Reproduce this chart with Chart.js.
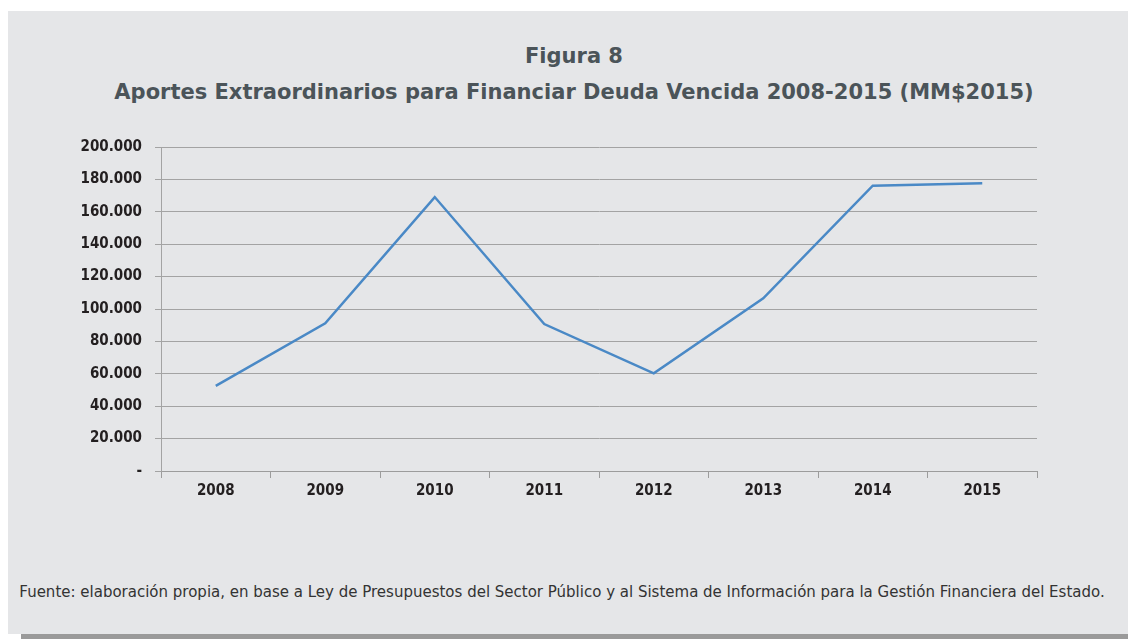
<!DOCTYPE html>
<html>
<head>
<meta charset="utf-8">
<script src="https://cdn.jsdelivr.net/npm/chart.js@4.4.0/dist/chart.umd.min.js"></script>
<style>
  html, body { margin: 0; padding: 0; width: 1128px; height: 639px; background: #ffffff; overflow: hidden; }
  #panel { position: absolute; left: 8px; top: 11px; width: 1120px; height: 623px; background: #e5e6e8; }
  #bar { position: absolute; left: 21px; top: 634px; width: 1107px; height: 5px; background: #9a9a9a; }
  .title { position: absolute; left: 10px; width: 1128px; text-align: center; font-family: "DejaVu Sans", sans-serif; font-weight: bold; font-size: 21px; color: #4b5459; white-space: nowrap; }
  #foot { position: absolute; left: -2px; width: 1128px; top: 583px; text-align: center; font-family: "DejaVu Sans", sans-serif; font-size: 15px; color: #333; white-space: nowrap; }
  #wrap { position: absolute; left: 0; top: 0; width: 1128px; height: 639px; }
</style>
</head>
<body>
<div id="panel"></div>
<div id="bar"></div>
<div class="title" style="top:44px">Figura 8</div>
<div class="title" style="top:80px">Aportes Extraordinarios para Financiar Deuda Vencida 2008-2015 (MM$2015)</div>
<div id="foot">Fuente: elaboración propia, en base a Ley de Presupuestos del Sector Público y al Sistema de Información para la Gestión Financiera del Estado.</div>
<div id="wrap"><canvas id="c" width="1128" height="639"></canvas></div>
<script>
const years = ["2008", "2009", "2010", "2011", "2012", "2013", "2014", "2015"];
const aportes = [52500, 91200, 169100, 90700, 60300, 106600, 176100, 177600];
const yTicks = [0, 20000, 40000, 60000, 80000, 100000, 120000, 140000, 160000, 180000, 200000];

function fmt(v) {
  if (v === 0) return "-";
  return String(v).replace(/\B(?=(\d{3})+(?!\d))/g, ".");
}

const tickFont = { family: "'DejaVu Sans Condensed', sans-serif", size: 15, weight: "bold" };

new Chart(document.getElementById("c"), {
  type: "line",
  data: {
    labels: years,
    datasets: [{
      data: aportes,
      borderColor: "#4a89c6",
      borderWidth: 2.5,
      pointRadius: 0,
      tension: 0,
      fill: false
    }]
  },
  options: {
    responsive: false,
    animation: false,
    devicePixelRatio: 1,
    layout: { padding: { left: 0, right: 91, top: 147, bottom: 128 } },
    plugins: { legend: { display: false }, title: { display: false }, tooltip: { enabled: false } },
    scales: {
      x: {
        offset: true,
        grid: { offset: true, drawOnChartArea: false, drawTicks: true, tickLength: 7, color: "#9c9c9c", lineWidth: 1 },
        border: { display: true, color: "#9c9c9c", width: 1 },
        ticks: { color: "#231f20", font: tickFont, padding: 4, maxRotation: 0 },
        afterFit: (s) => { s.height = 40; }
      },
      y: {
        min: 0, max: 200000,
        afterBuildTicks: (s) => { s.ticks = yTicks.map(v => ({ value: v })); },
        grid: { color: "#a3a3a3", lineWidth: 1, tickLength: 6 },
        border: { display: true, color: "#a3a3a3", width: 1 },
        ticks: { color: "#231f20", font: tickFont, padding: 13, callback: (v) => fmt(v) },
        afterFit: (s) => { s.width = 161; }
      }
    }
  }
});
</script>
</body>
</html>
